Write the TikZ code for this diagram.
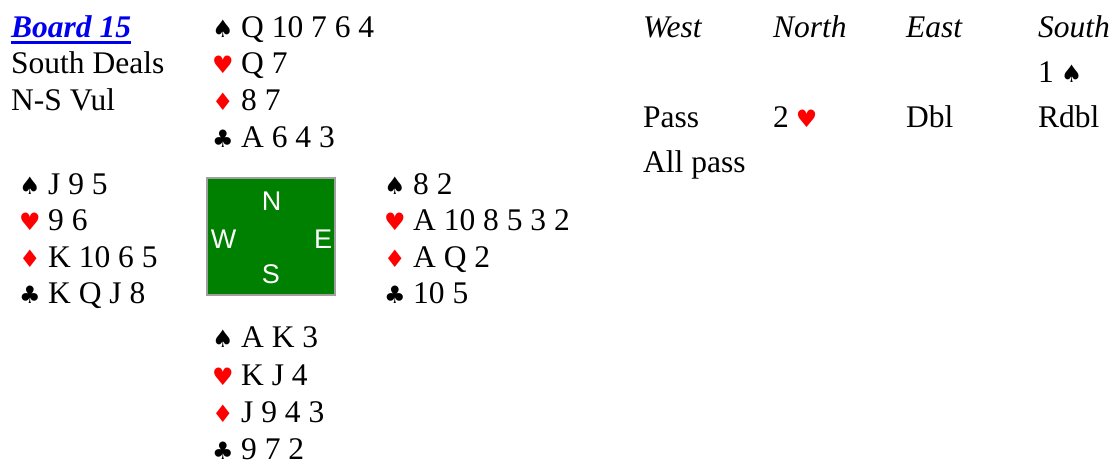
\documentclass[tikz,border=0pt]{standalone}
\usepackage{fontspec}
\setmainfont{Liberation Serif}
\newfontfamily\suitfont{DejaVu Sans}
\newfontfamily\compassfont{Liberation Sans}
\definecolor{felt}{RGB}{0,128,0}
\definecolor{feltborder}{RGB}{160,160,160}
\definecolor{linkblue}{RGB}{0,0,238}
\newcommand{\SpS}{{\suitfont\fontsize{24}{30}\selectfont ♠}}
\newcommand{\HeS}{{\suitfont\fontsize{24}{30}\selectfont\color{red}♥}}
\newcommand{\DiS}{{\suitfont\fontsize{24}{30}\selectfont\color{red}♦}}
\newcommand{\ClS}{{\suitfont\fontsize{24}{30}\selectfont ♣}}
\newcommand{\suitline}[2]{\makebox[29pt][l]{#1}#2}
\begin{document}
\begin{tikzpicture}[x=1pt,y=-1pt,
  txt/.style={anchor=base west,inner sep=0pt,font=\fontsize{31.5}{36}\selectfont},
  hdr/.style={txt,font=\fontsize{31.5}{36}\selectfont\itshape},
  cmp/.style={anchor=base,inner sep=0pt,text=white,font=\compassfont\fontsize{27}{30}\selectfont}]
\useasboundingbox (0,0) rectangle (1116,459);
% title block
\node[txt,text=linkblue,font=\fontsize{31.5}{36}\selectfont\bfseries\itshape] (board) at (11,37) {Board 15};
\draw[linkblue,line width=3pt] ([yshift=-5.5pt]board.base west) -- ([yshift=-5.5pt]board.base east);
\node[txt] (deal) at (11,73) {South Deals};
\node[txt] (vul) at (11,110) {N-S Vul};
% North
\node[txt] (ns) at (212,37) {\suitline{\SpS}{Q 10 7 6 4}};
\node[txt] (nh) at (212,73) {\suitline{\HeS}{Q 7}};
\node[txt] (nd) at (212,110) {\suitline{\DiS}{8 7}};
\node[txt] (nc) at (212,147) {\suitline{\ClS}{A 6 4 3}};
% West
\node[txt] (ws) at (19,194) {\suitline{\SpS}{J 9 5}};
\node[txt] (wh) at (19,230) {\suitline{\HeS}{9 6}};
\node[txt] (wd) at (19,267) {\suitline{\DiS}{K 10 6 5}};
\node[txt] (wc) at (19,303) {\suitline{\ClS}{K Q J 8}};
% East
\node[txt] (es) at (384,194) {\suitline{\SpS}{8 2}};
\node[txt] (eh) at (384,230) {\suitline{\HeS}{A 10 8 5 3 2}};
\node[txt] (ed) at (384,267) {\suitline{\DiS}{A Q 2}};
\node[txt] (ec) at (384,303) {\suitline{\ClS}{10 5}};
% South
\node[txt] (ss) at (212,347) {\suitline{\SpS}{A K 3}};
\node[txt] (sh) at (212,385) {\suitline{\HeS}{K J 4}};
\node[txt] (sd) at (212,422) {\suitline{\DiS}{J 9 4 3}};
\node[txt] (sc) at (212,459) {\suitline{\ClS}{9 7 2}};
% compass
\draw[fill=felt,draw=feltborder,line width=2pt] (207,178) rectangle (335,295);
\node[cmp] (cN) at (271.5,210) {N};
\node[cmp] (cW) at (223.5,248) {W};
\node[cmp] (cE) at (323,248) {E};
\node[cmp] (cS) at (271,283) {S};
% bidding
\node[hdr] (hW) at (643,37) {West};
\node[hdr] (hN) at (773,37) {North};
\node[hdr] (hE) at (906,37) {East};
\node[hdr] (hS) at (1038,37) {South};
\node[txt] (b1) at (1038,82) {1\hspace{7pt}\SpS};
\node[txt] (b2) at (643,127) {Pass};
\node[txt] (b3) at (773,127) {2\hspace{7pt}\HeS};
\node[txt] (b4) at (906,127) {Dbl};
\node[txt] (b5) at (1038,127) {Rdbl};
\node[txt] (b6) at (643,172) {All pass};
\end{tikzpicture}
\end{document}
